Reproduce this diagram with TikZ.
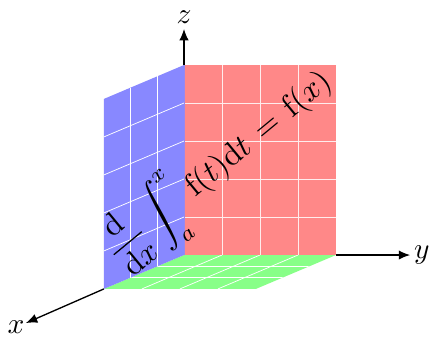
\documentclass[tikz,border=0pt]{standalone}
\usepackage{amsmath}
\usetikzlibrary{arrows.meta}
\tikzset{
  axisline/.style={line width=1pt,-{Latex[length=8.5pt,width=7pt]}},
  gridline/.style={white,line width=0.55pt},
  axislabel/.style={inner sep=0pt,scale=2.2,transform shape},
  formula/.style={inner sep=0pt,rotate=39.5,scale=2.4,transform shape}
}
\definecolor{wallred}{HTML}{FF8888}
\definecolor{wallblue}{HTML}{8888FF}
\definecolor{floorgreen}{HTML}{88FF88}
\begin{document}
\begin{tikzpicture}[x=1cm,y=1cm]
\useasboundingbox (-4.842,-2.316) rectangle (6.447,6.711);
\def\xu{-0.7026}\def\xv{0.2974}
% floor
\fill[floorgreen] (0,0) -- (4,0) -- ({4+3*\xu},{-3*\xv}) -- ({3*\xu},{-3*\xv}) -- cycle;
\begin{scope}
\clip (0,0) -- (4,0) -- ({4+3*\xu},{-3*\xv}) -- ({3*\xu},{-3*\xv}) -- cycle;
\foreach \i in {1,2,3} \draw[gridline] (\i,0) -- ({\i+3*\xu},{-3*\xv});
\foreach \i in {1,2} \draw[gridline] ({\i*\xu},{-\i*\xv}) -- ({4+\i*\xu},{-\i*\xv});
\end{scope}
% red wall
\fill[wallred] (0,0) rectangle (4,5);
\foreach \i in {1,2,3} \draw[gridline,white!85!wallred] (\i,0) -- (\i,5);
\foreach \i in {1,2,3,4} \draw[gridline,white!85!wallred] (0,\i) -- (4,\i);
% blue wall
\fill[wallblue] (0,0) -- (0,5) -- ({3*\xu},{5-3*\xv}) -- ({3*\xu},{-3*\xv}) -- cycle;
\foreach \i in {1,2} \draw[gridline] ({\i*\xu},{-\i*\xv}) -- ({\i*\xu},{5-\i*\xv});
\foreach \i in {1,2,3,4} \draw[gridline] (0,\i) -- ({3*\xu},{\i-3*\xv});
\draw[wallblue!85!wallred,line width=0.5pt] (0,0) -- (0,5);
% axes
\coordinate (zs) at (0,5);
\coordinate (ys) at (4,0);
\coordinate (xs) at ({3*\xu},{-3*\xv});
\node[axislabel] (zl) at (0,6.25) {$z$};
\node[axislabel] (yl) at (6.26,0) {$y$};
\node[axislabel] (xl) at (-4.42,-1.895) {$x$};
\draw[axisline] (zs) -- (0,5.95);
\draw[axisline] (ys) -- (5.95,0);
\draw[axisline] (xs) -- (-4.16,-1.79);
\node[formula] (eq) at (0.93,2.3) {$\displaystyle\frac{\mathrm{d}}{\mathrm{d}x}\int_a^x \mathrm{f}(t)\mathrm{d}t\mkern2mu=\mkern2mu\mathrm{f}(x)$};
\end{tikzpicture}
\end{document}
